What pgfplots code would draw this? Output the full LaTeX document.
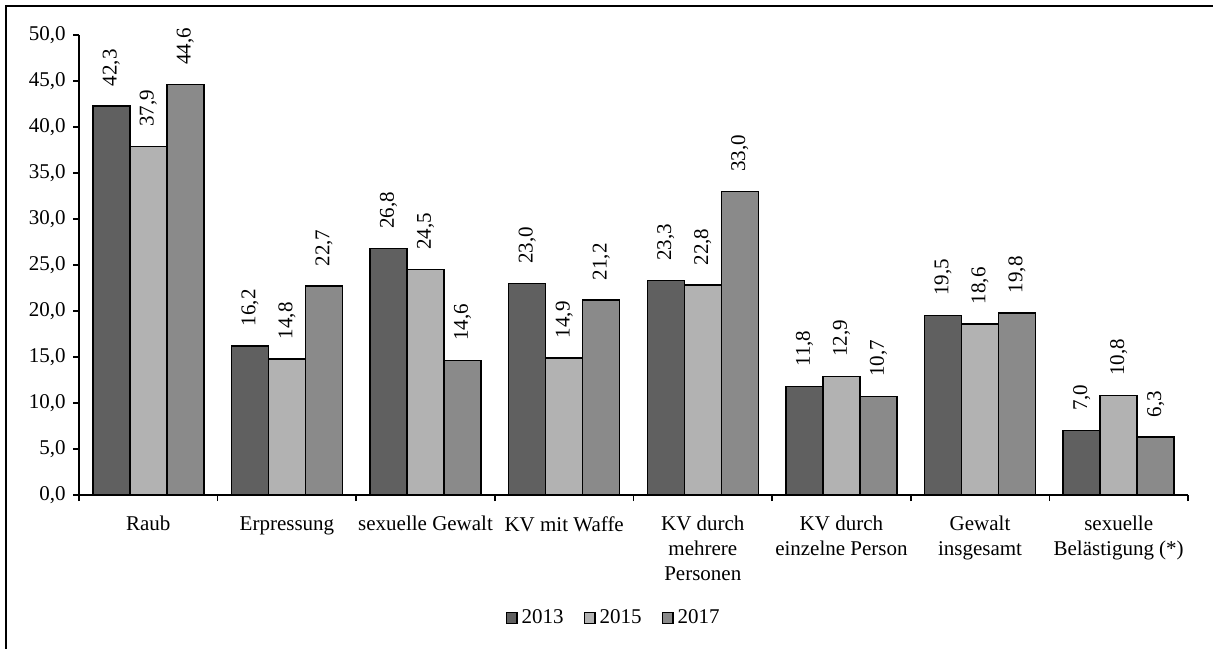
\documentclass[border=0pt]{standalone}
\usepackage{pgfplots}
\pgfplotsset{compat=1.18}
\usepackage{fontspec}
\setmainfont{Liberation Serif}
\definecolor{cA}{HTML}{606060}
\definecolor{cB}{HTML}{B2B2B2}
\definecolor{cC}{HTML}{8A8A8A}
\begin{document}
\begin{tikzpicture}
\useasboundingbox (0,0) rectangle (606.5pt,324pt);
\fontsize{10.5}{12.5}\selectfont
\draw[line width=1pt] (3pt,-10pt) -- (3pt,321pt) -- (620pt,321pt);
\begin{axis}[
  at={(39.5pt,76.5pt)}, anchor=south west,
  scale only axis, width=554.5pt, height=230pt,
  font=\fontsize{10.5}{12.5}\selectfont,
  ybar=0pt, bar width=18.5pt,
  xmin=-0.5, xmax=7.5, ymin=0, ymax=50,
  ytick={0,5,...,50},
  axis lines=left, axis line style={-, line width=0.8pt},
  tick align=outside, tick style={black, line width=0.8pt},
  major tick length=3pt,
  xtick={0,...,7},
  x tick style={draw=none},
  minor xtick={-0.5,0.5,...,7.5},
  minor x tick style={draw=black, line width=0.8pt},
  minor tick length=3pt,
  xticklabels={Raub, Erpressung, sexuelle Gewalt, KV mit Waffe, {KV durch\\mehrere\\Personen}, {KV durch\\einzelne Person}, {Gewalt\\insgesamt}, {sexuelle\\Belästigung (*)}},
  xticklabel style={align=center, yshift=-4pt},
  yticklabel style={/pgf/number format/.cd, fixed, fixed zerofill, precision=1, use comma, assume math mode=true},
  /pgf/number format/assume math mode=true,
  nodes near coords,
  nodes near coords style={rotate=90, anchor=west, inner xsep=9.5pt, font=\fontsize{10.5}{12.5}\selectfont, /pgf/number format/.cd, fixed, fixed zerofill, precision=1, use comma, assume math mode=true},
  every axis plot/.append style={draw=black, line width=0.8pt},
  legend style={at={(0.483,0)}, anchor=center, yshift=-61.5pt, draw=none, legend columns=3, /tikz/every even column/.append style={column sep=8pt}, font=\fontsize{10.5}{12.5}\selectfont},
  legend image code/.code={\draw[#1, line width=0.6pt] (0pt,-2.7pt) rectangle (5.4pt,2.7pt);},
]
\addplot[fill=cA] coordinates {(0,42.3) (1,16.2) (2,26.8) (3,23.0) (4,23.3) (5,11.8) (6,19.5) (7,7.0)};
\addplot[fill=cB] coordinates {(0,37.9) (1,14.8) (2,24.5) (3,14.9) (4,22.8) (5,12.9) (6,18.6) (7,10.8)};
\addplot[fill=cC] coordinates {(0,44.6) (1,22.7) (2,14.6) (3,21.2) (4,33.0) (5,10.7) (6,19.8) (7,6.3)};
\legend{2013,2015,2017}
\end{axis}
\end{tikzpicture}
\end{document}
